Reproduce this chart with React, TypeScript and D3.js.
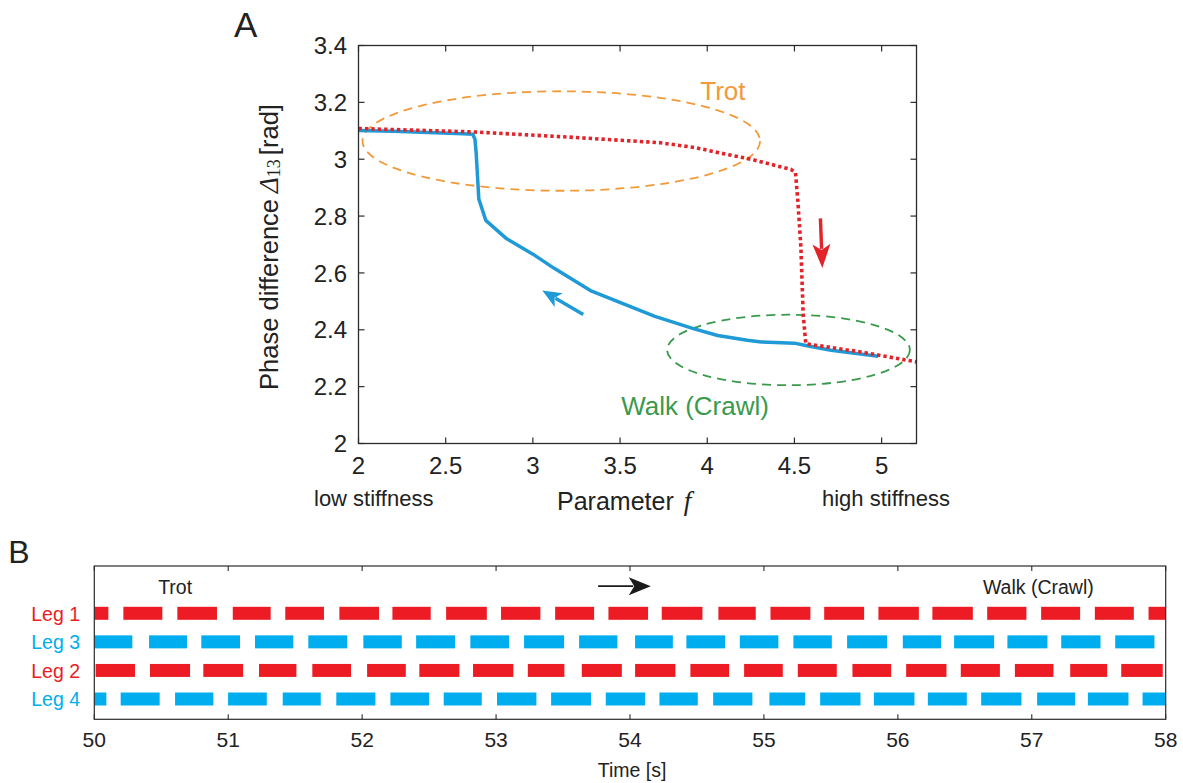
import React from "react";
import * as d3 from "d3";

// ---------- panel A data ----------
const fTicks = [2, 2.5, 3, 3.5, 4, 4.5, 5];
const deltaTicks = [2, 2.2, 2.4, 2.6, 2.8, 3, 3.2, 3.4];

// decreasing f (blue, solid)
const blueCurve: [number, number][] = [
  [2.0, 3.101], [2.2, 3.098], [2.4, 3.094], [2.6, 3.09], [2.655, 3.088],
  [2.668, 3.07], [2.675, 3.02], [2.69, 2.86], [2.73, 2.785], [2.85, 2.72],
  [3.0, 2.666], [3.12, 2.617], [3.33, 2.538], [3.52, 2.491], [3.7, 2.447],
  [3.92, 2.404], [4.06, 2.38], [4.23, 2.363], [4.31, 2.357], [4.5, 2.353],
  [4.565, 2.345], [4.71, 2.328], [4.98, 2.307],
];

// increasing f (red, dotted)
const redCurve: [number, number][] = [
  [2.0, 3.108], [2.66, 3.096], [3.2, 3.078], [3.73, 3.058], [3.94, 3.04],
  [4.04, 3.026], [4.25, 3.0], [4.48, 2.964], [4.506, 2.953], [4.52, 2.85],
  [4.537, 2.69], [4.55, 2.456], [4.565, 2.351], [4.88, 2.322], [5.2, 2.287],
];

// gait regions: [cx, cy, rx, ry] in data units
const trotRegion = [3.163, 3.064, 1.14, 0.175];
const walkRegion = [4.466, 2.329, 0.696, 0.124];

// arrows: [tailF, tailDelta, tipF, tipDelta]
const blueArrow = [3.289, 2.454, 3.054, 2.538];
const redArrow = [4.649, 2.792, 4.66, 2.617];

// ---------- panel B data ----------
const timeTicks = [50, 51, 52, 53, 54, 55, 56, 57, 58];
const legs = ["Leg 1", "Leg 3", "Leg 2", "Leg 4"];

const leg1Steps: [number, number][] = [
  [50.0, 50.105], [50.217, 50.508], [50.62, 50.916], [51.034, 51.317], [51.426, 51.715],
  [51.83, 52.126], [52.226, 52.512], [52.627, 52.931], [53.037, 53.331], [53.441, 53.732],
  [53.839, 54.135], [54.237, 54.541], [54.66, 54.939], [55.049, 55.347], [55.45, 55.748],
  [55.855, 56.157], [56.258, 56.56], [56.667, 56.96], [57.07, 57.361], [57.471, 57.762],
  [57.872, 58.0],
];
const leg3Steps: [number, number][] = [
  [50.0, 50.284], [50.409, 50.692], [50.799, 51.088], [51.2, 51.486], [51.598, 51.889],
  [52.009, 52.296], [52.403, 52.694], [52.808, 53.097], [53.209, 53.508], [53.62, 53.906],
  [54.038, 54.32], [54.421, 54.71], [54.82, 55.108], [55.22, 55.507], [55.621, 55.92],
  [56.037, 56.323], [56.42, 56.719], [56.818, 57.117], [57.22, 57.513], [57.623, 57.916],
];
const leg2Steps: [number, number][] = [
  [50.01, 50.304], [50.416, 50.715], [50.814, 51.111], [51.23, 51.509], [51.628, 51.917],
  [52.037, 52.326], [52.427, 52.726], [52.828, 53.129], [53.237, 53.51], [53.64, 53.939],
  [54.038, 54.339], [54.451, 54.74], [54.852, 55.141], [55.253, 55.544], [55.661, 55.95],
  [56.062, 56.363], [56.47, 56.762], [56.874, 57.162], [57.287, 57.563], [57.668, 57.978],
];
const leg4Steps: [number, number][] = [
  [50.0, 50.09], [50.197, 50.488], [50.603, 50.889], [50.999, 51.288], [51.407, 51.691],
  [51.807, 52.099], [52.211, 52.5], [52.609, 52.893], [53.007, 53.301], [53.411, 53.709],
  [53.819, 54.113], [54.22, 54.506], [54.621, 54.914], [55.041, 55.308], [55.42, 55.721],
  [55.821, 56.124], [56.224, 56.515], [56.622, 56.923], [57.04, 57.324], [57.419, 57.722],
  [57.827, 58.0],
];
const legSteps = [leg1Steps, leg3Steps, leg2Steps, leg4Steps];
const timeArrow = [53.762, 54.155];

const FONT = "'Liberation Sans', Arial, Helvetica, sans-serif";
const SERIF = "'Liberation Serif', 'DejaVu Serif', serif";
const AXIS = "#2b2b2b";
const RED_A = "#e2242a";
const BLUE_A = "#1f9ad7";
const RED_B = "#ed1c24";
const BLUE_B = "#00aeef";
const ORANGE = "#f29a3a";
const GREEN = "#3a9a4c";

function Arrow({ x1, y1, x2, y2, len, wid, color, sw }: any) {
  const ang = Math.atan2(y2 - y1, x2 - x1);
  const bx = x2 - len * Math.cos(ang);
  const by = y2 - len * Math.sin(ang);
  const px = (wid / 2) * Math.sin(ang);
  const py = (wid / 2) * -Math.cos(ang);
  return (
    <g>
      <line x1={x1} y1={y1} x2={bx + len * 0.2 * Math.cos(ang)} y2={by + len * 0.2 * Math.sin(ang)} stroke={color} strokeWidth={sw} />
      <polygon points={`${x2},${y2} ${bx + px},${by + py} ${bx + len * 0.25 * Math.cos(ang)},${by + len * 0.25 * Math.sin(ang)} ${bx - px},${by - py}`} fill={color} />
    </g>
  );
}

const App = () => {
  // panel A scales
  const x = d3.scaleLinear().domain([2, 5.2]).range([358.5, 916.5]);
  const y = d3.scaleLinear().domain([2, 3.4]).range([443.5, 45.5]);
  const line = d3.line<[number, number]>().x(d => x(d[0])).y(d => y(d[1]));

  // panel B scales
  const t = d3.scaleLinear().domain([50, 58]).range([94.3, 1165.7]);
  const row = d3.scalePoint<string>().domain(legs).range([613.3, 699]);
  const rowStep = row.step();
  const topB = 566;
  const botB = 719.3;

  const ell = (r: number[], color: string) => (
    <ellipse
      cx={x(r[0])} cy={y(r[1])}
      rx={x(r[0] + r[2]) - x(r[0])} ry={y(r[1]) - y(r[1] + r[3])}
      fill="none" stroke={color} strokeWidth={1.8} strokeDasharray="9,6"
    />
  );

  return (
    <svg width={1183} height={783} style={{ position: "absolute", left: 0, top: 0, background: "#fff" }} fontFamily={FONT}>
      {/* ---------- Panel A ---------- */}
      <text x={234} y={36.7} fontSize={35} fill="#222">A</text>

      {ell(trotRegion, ORANGE)}
      {ell(walkRegion, GREEN)}

      <path d={line(blueCurve) || ""} fill="none" stroke={BLUE_A} strokeWidth={3.5} strokeLinejoin="round" />
      <path d={line(redCurve) || ""} fill="none" stroke={RED_A} strokeWidth={3.6} strokeDasharray="3.4,3" />

      <Arrow x1={x(blueArrow[0])} y1={y(blueArrow[1])} x2={x(blueArrow[2])} y2={y(blueArrow[3])} len={19} wid={16} color={BLUE_A} sw={3.4} />
      <Arrow x1={x(redArrow[0])} y1={y(redArrow[1])} x2={x(redArrow[2])} y2={y(redArrow[3])} len={24} wid={18} color={RED_A} sw={3.4} />

      <text x={x(3.96)} y={y(3.21)} fontSize={26} fill={ORANGE}>Trot</text>
      <text x={x(3.93)} y={y(2.1)} fontSize={26} fill={GREEN} textAnchor="middle">Walk (Crawl)</text>

      {/* frame */}
      <rect x={x(2)} y={y(3.4)} width={x(5.2) - x(2)} height={y(2) - y(3.4)} fill="none" stroke={AXIS} strokeWidth={1.3} />
      {fTicks.map(v => (
        <g key={"fx" + v}>
          <line x1={x(v)} x2={x(v)} y1={y(2)} y2={y(2) - 6} stroke={AXIS} strokeWidth={1.2} />
          <line x1={x(v)} x2={x(v)} y1={y(3.4)} y2={y(3.4) + 6} stroke={AXIS} strokeWidth={1.2} />
          <text x={x(v)} y={y(2) + 30} fontSize={24} textAnchor="middle" fill="#222">{v}</text>
        </g>
      ))}
      {deltaTicks.map(v => (
        <g key={"dy" + v}>
          <line x1={x(2)} x2={x(2) + 6} y1={y(v)} y2={y(v)} stroke={AXIS} strokeWidth={1.2} />
          <line x1={x(5.2)} x2={x(5.2) - 6} y1={y(v)} y2={y(v)} stroke={AXIS} strokeWidth={1.2} />
          <text x={347} y={y(v)} dy="0.36em" fontSize={24} textAnchor="end" fill="#222">{v}</text>
        </g>
      ))}

      <text x={314} y={506} fontSize={22} fill="#222">low stiffness</text>
      <text x={950} y={506} fontSize={22} fill="#222" textAnchor="end">high stiffness</text>
      <text x={557} y={510} fontSize={25} fill="#222">
        Parameter
        <tspan dx={10} fontFamily={SERIF} fontStyle="italic" fontSize={27}>f</tspan>
      </text>

      <text transform="translate(278,247) rotate(-90)" fontSize={25.5} textAnchor="middle" fill="#222">
        Phase difference
        <tspan dx={6} fontFamily={SERIF} fontStyle="italic" fontSize={27}>Δ</tspan>
        <tspan fontFamily={SERIF} fontSize={18} dy={2}>13</tspan>
        <tspan dx={4} dy={-2}>[rad]</tspan>
      </text>

      {/* ---------- Panel B ---------- */}
      <text x={8.3} y={563.3} fontSize={32} fill="#222">B</text>

      {legSteps.map((steps, i) =>
        steps.map((s, j) => (
          <rect key={legs[i] + j}
            x={t(s[0])} width={t(s[1]) - t(s[0])}
            y={(row(legs[i]) as number) - 6.5} height={13}
            fill={i % 2 === 0 ? RED_B : BLUE_B} />
        ))
      )}

      {legs.map((l, i) => (
        <text key={l} x={80} y={(row(l) as number) + 7.2} fontSize={19.5} textAnchor="end" fill={i % 2 === 0 ? RED_B : BLUE_B}>{l}</text>
      ))}

      <text x={t(50.477)} y={594} fontSize={19.5} fill="#222">Trot</text>
      <text x={t(56.635)} y={594} fontSize={19.5} fill="#222">Walk (Crawl)</text>
      <Arrow x1={t(timeArrow[0])} y1={(row("Leg 1") as number) - rowStep * 0.95} x2={t(timeArrow[1])} y2={(row("Leg 1") as number) - rowStep * 0.95} len={22} wid={18} color="#1a1a1a" sw={1.6} />

      <rect x={t(50)} y={topB} width={t(58) - t(50)} height={botB - topB} fill="none" stroke={AXIS} strokeWidth={1.2} />
      {timeTicks.map(v => (
        <g key={"t" + v}>
          <line x1={t(v)} x2={t(v)} y1={botB} y2={botB - 5} stroke={AXIS} strokeWidth={1.1} />
          <line x1={t(v)} x2={t(v)} y1={topB} y2={topB + 5} stroke={AXIS} strokeWidth={1.1} />
          <text x={t(v)} y={746.7} fontSize={21} textAnchor="middle" fill="#222">{v}</text>
        </g>
      ))}
      <text x={632} y={777} fontSize={19.5} textAnchor="middle" fill="#222">Time [s]</text>
    </svg>
  );
};

export default App;
